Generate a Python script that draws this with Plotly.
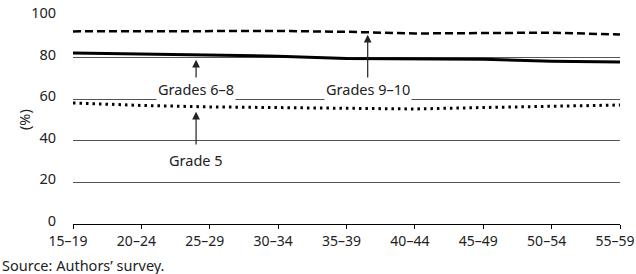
import plotly.graph_objects as go

categories = ["15–19", "20–24", "25–29", "30–34", "35–39", "40–44", "45–49", "50–54", "55–59"]
grades_9_10 = [92.6, 92.7, 92.8, 92.8, 92.4, 91.6, 91.8, 92.0, 91.1]
grades_6_8 = [82.2, 81.8, 81.3, 80.7, 79.6, 79.4, 79.2, 78.2, 77.9]
grade_5 = [58.2, 57.0, 56.3, 56.0, 55.8, 55.3, 56.0, 56.7, 57.2]
y_ticks = [0, 20, 40, 60, 80, 100]

FONT = "Noto Sans"
FS = 14.5
xs = list(range(len(categories)))

fig = go.Figure()
fig.add_trace(go.Scatter(x=xs, y=grades_9_10, mode="lines",
                         line=dict(color="black", width=2.5, dash="8px,4px")))
fig.add_trace(go.Scatter(x=xs, y=grades_6_8, mode="lines",
                         line=dict(color="black", width=3)))
fig.add_trace(go.Scatter(x=xs, y=grade_5, mode="lines",
                         line=dict(color="black", width=3, dash="2.5px,4px")))

annotations = []
def arrow(x, ytip, ytail, label, ylab):
    annotations.append(dict(x=x, y=ytip, ax=x, ay=ytail, axref="x", ayref="y",
                            xref="x", yref="y", text="", showarrow=True,
                            arrowhead=2, arrowsize=1.3, arrowwidth=1.2, arrowcolor="#222"))
    annotations.append(dict(x=x, y=ylab, xref="x", yref="y", text=label, showarrow=False,
                            font=dict(family=FONT, size=FS, color="#222"), bgcolor="white"))

arrow(1.8, 79.0, 69.5, "Grades 6–8", 64.9)
arrow(1.8, 54.0, 37.5, "Grade 5", 30.8)
arrow(4.31, 91.0, 69.5, "Grades 9–10", 64.9)

annotations.append(dict(x=0, y=0, xref="paper", yref="paper", xanchor="left", yanchor="top",
                        xshift=-73, yshift=-29, text="Source: Authors’ survey.", showarrow=False,
                        font=dict(family=FONT, size=FS, color="#222")))
annotations.append(dict(x=0, y=0.5, xref="paper", yref="paper", xshift=-61, text="(%)",
                        textangle=-90, showarrow=False, font=dict(family=FONT, size=FS, color="#222")))

fig.update_layout(
    width=636, height=274,
    margin=dict(l=73, r=16, t=16, b=50),
    paper_bgcolor="white", plot_bgcolor="white",
    showlegend=False,
    font=dict(family=FONT, size=FS, color="#222"),
    annotations=annotations,
    xaxis=dict(range=[0, 8], tickvals=xs, ticktext=categories, showgrid=False,
               showline=True, linecolor="black", linewidth=1, ticks="outside",
               ticklen=4, tickcolor="black", zeroline=False, fixedrange=True,
               ticklabeloverflow="allow", automargin=False, ticklabelshift=-5,
               tickfont=dict(family=FONT, size=14, color="#222")),
    yaxis=dict(range=[0, 100], tickvals=y_ticks, showgrid=True, gridcolor="#555",
               gridwidth=1, zeroline=False, showline=False, ticks="outside",
               ticklen=13, tickcolor="rgba(0,0,0,0)", fixedrange=True, automargin=False,
               ticklabelshift=-3),
)
fig.write_html("out.html", config={"displayModeBar": False},
               post_script="document.body.style.margin='0';")
